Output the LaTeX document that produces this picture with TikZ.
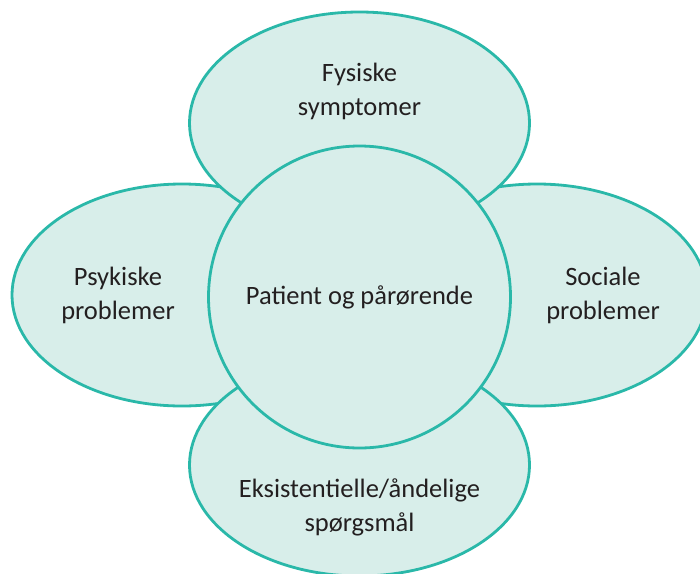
\documentclass[tikz,border=0pt]{standalone}
\usepackage{fontspec}
\setmainfont{Carlito}
\usetikzlibrary{shapes.geometric,positioning}

\definecolor{tealline}{HTML}{2AB8A9}
\definecolor{tealfill}{HTML}{D8EEEA}
\definecolor{textgray}{HTML}{231F20}

\tikzset{
  area/.style={ellipse, draw=tealline, fill=tealfill, line width=2.8pt,
    minimum width=340pt, minimum height=222pt, inner sep=0pt},
  hub/.style={circle, draw=tealline, fill=tealfill, line width=2.8pt,
    minimum size=302pt, inner sep=0pt},
  lbl/.style={align=center, text=textgray, font=\fontsize{26.5}{34}\selectfont}
}

\begin{document}
\begin{tikzpicture}[x=1pt,y=-1pt]
            \useasboundingbox (0,0) rectangle (700,573);

            % the four areas round the patient
            \node[area] (psyk) at (182,295) {};
            \node[area] (soc) at (537,295) {};
            \node[area] (fys) at (359.5,123) {};
            \node[area] (eks) at (359.5,465) {};

            \node[hub] (pat) at (359.5,297) {};

            \node[lbl] at ([yshift=32pt]fys.center) {Fysiske\\symptomer};
            \node[lbl] at ([xshift=-64pt]psyk.center) {Psykiske\\problemer};
            \node[lbl] at ([xshift=66pt]soc.center) {Sociale\\problemer};
            \node[lbl] at ([yshift=-42pt]eks.center) {Eksistentielle/åndelige\\spørgsmål};
            \node[lbl] at (pat.center) {Patient og pårørende};
        \end{tikzpicture}
\end{document}
